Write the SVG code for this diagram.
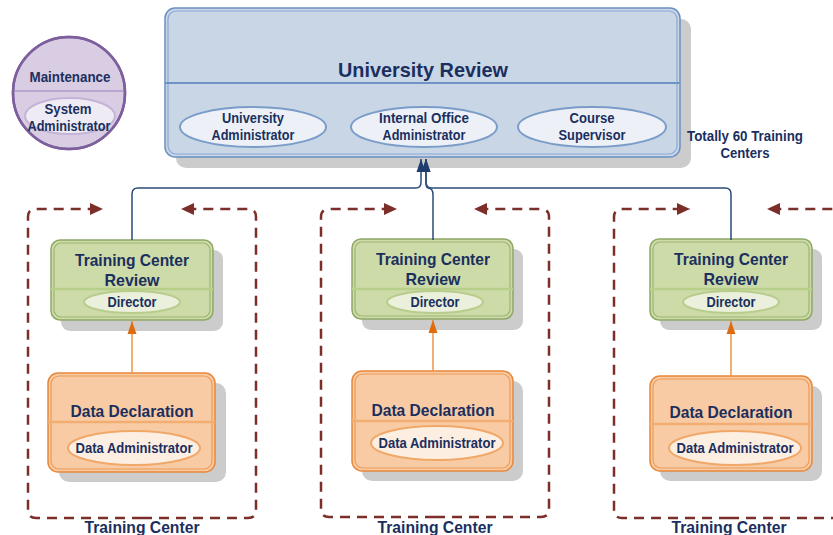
<svg xmlns="http://www.w3.org/2000/svg" width="833" height="535" viewBox="0 0 833 535">
<defs>
<style>
text{font-family:"Liberation Sans",Arial,sans-serif;font-weight:bold;fill:#1b2f5e;text-anchor:middle}
.shadow{fill:#cccccc}
.uni-o{fill:#c9d6e6;stroke:#6b90c4;stroke-width:1.5}
.uni-i{fill:none;stroke:#8aa8d4;stroke-width:1.2}
.uni-e{fill:#edf1f7;stroke:#7a9cc8;stroke-width:2}
.gr-o{fill:#cddba9;stroke:#8fa865;stroke-width:1.5}
.gr-i{fill:none;stroke:#9db573;stroke-width:1.2}
.gr-d{stroke:#b8cf8a;stroke-width:2.5}
.gr-e{fill:#eaf0dc;stroke:#b8cc8c;stroke-width:2}
.or-o{fill:#f9cba5;stroke:#e8883a;stroke-width:1.5}
.or-i{fill:none;stroke:#ec9a55;stroke-width:1.2}
.or-d{stroke:#f2ae72;stroke-width:2.5}
.or-e{fill:#fdeee2;stroke:#f0a869;stroke-width:2}
.nav{fill:none;stroke:#2d4a7a;stroke-width:1.5}
.org{fill:none;stroke:#f09a50;stroke-width:1.6}
.dash{fill:none;stroke:#7b2e2a;stroke-width:2.5;stroke-dasharray:10 7}
.t21{font-size:21px}
.t16{font-size:16.5px}
.t14{font-size:14px}
</style>
<marker id="arrNav" markerUnits="userSpaceOnUse" markerWidth="14" markerHeight="10" refX="13" refY="5" orient="auto" overflow="visible">
<path d="M0,0.5 L13,5 L0,9.5 z" fill="#1e3c6e"/>
</marker>
<marker id="arrOrg" markerUnits="userSpaceOnUse" markerWidth="13" markerHeight="10" refX="13" refY="5" orient="auto" overflow="visible">
<path d="M0,0.5 L13,5 L0,9.5 z" fill="#e06c10"/>
</marker>
<marker id="arrDash" markerUnits="userSpaceOnUse" markerWidth="14" markerHeight="12" refX="13" refY="6" orient="auto" overflow="visible">
<path d="M0,0 L13,6 L0,12 z" fill="#7b2e2a"/>
</marker>
</defs>

<g id="training-center-groups">
<path class="dash" d="M142,518 H36 Q28,518 28,510 V217 Q28,209 36,209 H103" marker-end="url(#arrDash)"/>
<path class="dash" d="M142,518 H248 Q256,518 256,510 V217 Q256,209 248,209 H181" marker-end="url(#arrDash)"/>
<path class="dash" d="M435,517 H329 Q321,517 321,509 V217 Q321,209 329,209 H397" marker-end="url(#arrDash)"/>
<path class="dash" d="M435,517 H541 Q549,517 549,509 V217 Q549,209 541,209 H474" marker-end="url(#arrDash)"/>
<path class="dash" d="M729,518 H622 Q614,518 614,510 V217 Q614,209 622,209 H690" marker-end="url(#arrDash)"/>
<path class="dash" d="M729,518 H834 Q842,518 842,510 V217 Q842,209 834,209 H767" marker-end="url(#arrDash)"/>
<text class="t16" x="142" y="533" textLength="115" lengthAdjust="spacingAndGlyphs">Training Center</text>
<text class="t16" x="435" y="533" textLength="115" lengthAdjust="spacingAndGlyphs">Training Center</text>
<text class="t16" x="729" y="533" textLength="115" lengthAdjust="spacingAndGlyphs">Training Center</text>
</g>

<g id="maintenance">
<circle cx="69" cy="93" r="56" fill="#d8cde3" stroke="#7d5f9e" stroke-width="2.5"/>
<line x1="14" y1="91" x2="124" y2="91" stroke="#b9a5cf" stroke-width="2"/>
<ellipse cx="70" cy="116" rx="45" ry="18" fill="#efebf4" stroke="#c4b3d6" stroke-width="2"/>
<circle cx="69" cy="93" r="56" fill="none" stroke="#7d5f9e" stroke-width="2.5"/>
<text class="t14" x="70" y="82" textLength="81" lengthAdjust="spacingAndGlyphs">Maintenance</text>
<text class="t14" x="68" y="114" textLength="47" lengthAdjust="spacingAndGlyphs">System</text>
<text class="t14" x="69" y="131" textLength="83" lengthAdjust="spacingAndGlyphs">Administrator</text>
</g>

<g id="university-review">
<rect class="shadow" x="176" y="19" width="515" height="149" rx="10"/>
<rect class="uni-o" x="165" y="8" width="515" height="149" rx="10"/>
<rect class="uni-i" x="168" y="11" width="509" height="143" rx="8"/>
<line x1="165" y1="83" x2="680" y2="83" stroke="#6f93c4" stroke-width="2"/>
<text class="t21" x="423" y="77" textLength="170" lengthAdjust="spacingAndGlyphs">University Review</text>
<ellipse class="uni-e" cx="253" cy="127" rx="73" ry="20"/>
<text class="t14" x="253" y="123" textLength="62" lengthAdjust="spacingAndGlyphs">University</text>
<text class="t14" x="253" y="140" textLength="83" lengthAdjust="spacingAndGlyphs">Administrator</text>
<ellipse class="uni-e" cx="424" cy="127" rx="73" ry="20"/>
<text class="t14" x="424" y="123" textLength="90" lengthAdjust="spacingAndGlyphs">Internal Office</text>
<text class="t14" x="424" y="140" textLength="83" lengthAdjust="spacingAndGlyphs">Administrator</text>
<ellipse class="uni-e" cx="592" cy="127" rx="74" ry="20"/>
<text class="t14" x="592" y="123" textLength="45" lengthAdjust="spacingAndGlyphs">Course</text>
<text class="t14" x="592" y="140" textLength="67" lengthAdjust="spacingAndGlyphs">Supervisor</text>
</g>

<g id="note-total">
<text class="t14" x="745" y="141" textLength="116" lengthAdjust="spacingAndGlyphs">Totally 60 Training</text>
<text class="t14" x="745" y="158" textLength="49" lengthAdjust="spacingAndGlyphs">Centers</text>
</g>

<g id="tc-review-1">
<rect class="shadow" x="61" y="250" width="162" height="81" rx="9"/>
<rect class="gr-o" x="51" y="240" width="162" height="80" rx="9"/>
<rect class="gr-i" x="54" y="243" width="156" height="74" rx="7"/>
<line class="gr-d" x1="51" y1="289" x2="213" y2="289"/>
<text class="t16" x="132" y="266" textLength="114" lengthAdjust="spacingAndGlyphs">Training Center</text>
<text class="t16" x="132" y="286" textLength="55" lengthAdjust="spacingAndGlyphs">Review</text>
<ellipse class="gr-e" cx="132" cy="302" rx="48" ry="11"/>
<text class="t14" x="132" y="307" textLength="49" lengthAdjust="spacingAndGlyphs">Director</text>
</g>

<g id="tc-review-2">
<rect class="shadow" x="362" y="249" width="161" height="81" rx="9"/>
<rect class="gr-o" x="352" y="239" width="161" height="80" rx="9"/>
<rect class="gr-i" x="355" y="242" width="155" height="74" rx="7"/>
<line class="gr-d" x1="352" y1="289" x2="513" y2="289"/>
<text class="t16" x="433" y="265" textLength="114" lengthAdjust="spacingAndGlyphs">Training Center</text>
<text class="t16" x="433" y="285" textLength="55" lengthAdjust="spacingAndGlyphs">Review</text>
<ellipse class="gr-e" cx="435" cy="302" rx="48" ry="11"/>
<text class="t14" x="435" y="307" textLength="49" lengthAdjust="spacingAndGlyphs">Director</text>
</g>

<g id="tc-review-3">
<rect class="shadow" x="660" y="249" width="162" height="81" rx="9"/>
<rect class="gr-o" x="650" y="239" width="162" height="81" rx="9"/>
<rect class="gr-i" x="653" y="242" width="156" height="75" rx="7"/>
<line class="gr-d" x1="650" y1="289" x2="812" y2="289"/>
<text class="t16" x="731" y="265" textLength="114" lengthAdjust="spacingAndGlyphs">Training Center</text>
<text class="t16" x="731" y="285" textLength="55" lengthAdjust="spacingAndGlyphs">Review</text>
<ellipse class="gr-e" cx="731" cy="302" rx="48" ry="11"/>
<text class="t14" x="731" y="307" textLength="49" lengthAdjust="spacingAndGlyphs">Director</text>
</g>

<g id="data-declaration-1">
<rect class="shadow" x="59" y="383" width="167" height="99" rx="10"/>
<rect class="or-o" x="48" y="373" width="167" height="99" rx="10"/>
<rect class="or-i" x="51" y="376" width="161" height="93" rx="8"/>
<line class="or-d" x1="48" y1="422" x2="215" y2="422"/>
<text class="t16" x="132" y="417" textLength="123" lengthAdjust="spacingAndGlyphs">Data Declaration</text>
<ellipse class="or-e" cx="134" cy="448" rx="66" ry="17"/>
<text class="t14" x="134" y="453" textLength="117" lengthAdjust="spacingAndGlyphs">Data Administrator</text>
</g>

<g id="data-declaration-2">
<rect class="shadow" x="362" y="381" width="161" height="100" rx="10"/>
<rect class="or-o" x="352" y="371" width="161" height="100" rx="10"/>
<rect class="or-i" x="355" y="374" width="155" height="94" rx="8"/>
<line class="or-d" x1="352" y1="421" x2="513" y2="421"/>
<text class="t16" x="433" y="416" textLength="123" lengthAdjust="spacingAndGlyphs">Data Declaration</text>
<ellipse class="or-e" cx="437" cy="443" rx="66" ry="17"/>
<text class="t14" x="437" y="448" textLength="117" lengthAdjust="spacingAndGlyphs">Data Administrator</text>
</g>

<g id="data-declaration-3">
<rect class="shadow" x="660" y="386" width="162" height="95" rx="10"/>
<rect class="or-o" x="650" y="376" width="162" height="95" rx="10"/>
<rect class="or-i" x="653" y="379" width="156" height="89" rx="8"/>
<line class="or-d" x1="650" y1="424" x2="812" y2="424"/>
<text class="t16" x="731" y="418" textLength="123" lengthAdjust="spacingAndGlyphs">Data Declaration</text>
<ellipse class="or-e" cx="735" cy="448" rx="66" ry="17"/>
<text class="t14" x="735" y="453" textLength="117" lengthAdjust="spacingAndGlyphs">Data Administrator</text>
</g>

<g id="connectors">
<path class="nav" d="M132,240 V194 Q132,188 138,188 H416 Q421,188 421,182 V159" marker-end="url(#arrNav)"/>
<path class="nav" d="M433,240 V195 Q433,188 428,188 Q426,188 426,182 V159" marker-end="url(#arrNav)"/>
<path class="nav" d="M731,240 V194 Q731,188 725,188 H432 Q426,188 426,182 V159" marker-end="url(#arrNav)"/>
<path class="org" d="M132,373 V321" marker-end="url(#arrOrg)"/>
<path class="org" d="M433,371 V320" marker-end="url(#arrOrg)"/>
<path class="org" d="M731,376 V321" marker-end="url(#arrOrg)"/>
</g>
</svg>
